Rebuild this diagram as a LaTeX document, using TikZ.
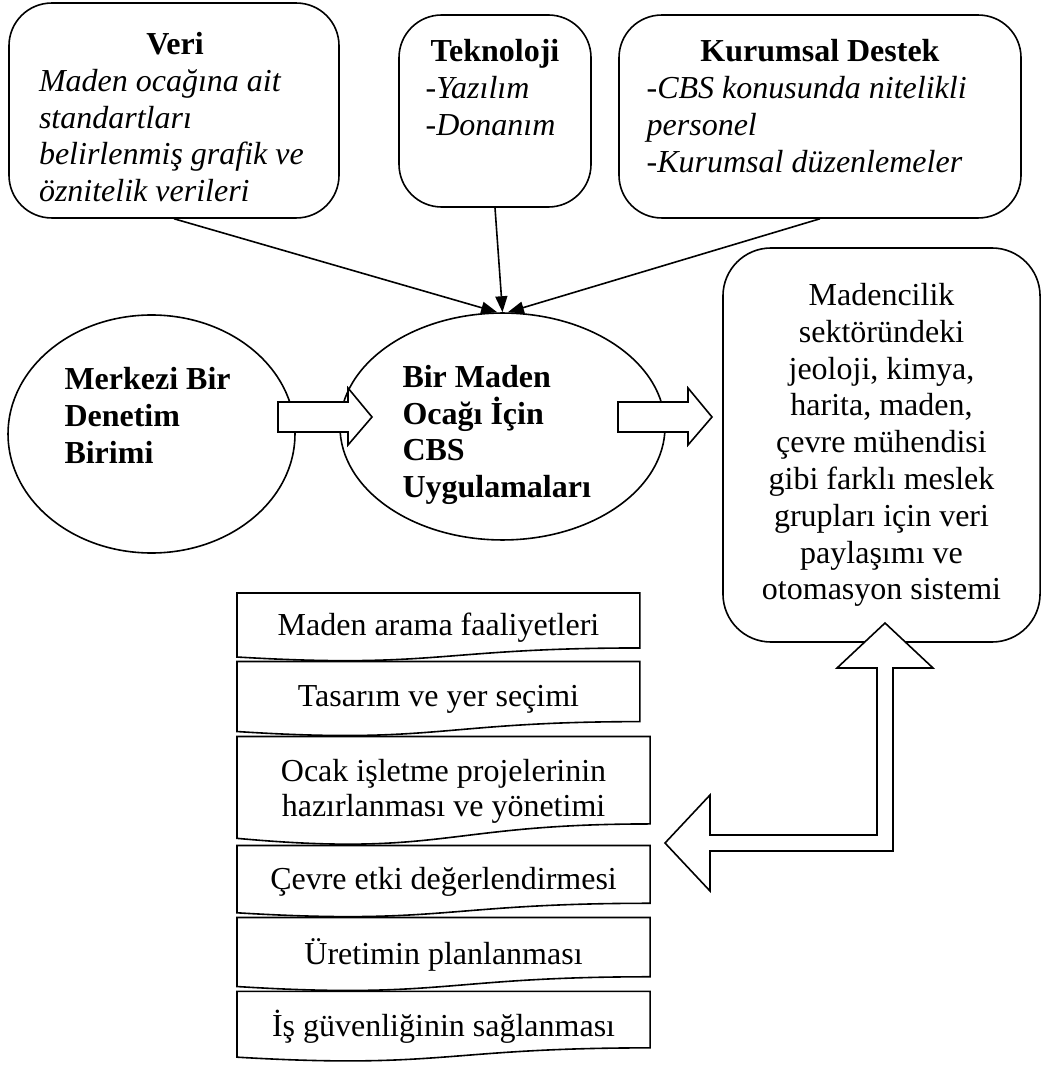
\documentclass[tikz,border=0pt]{standalone}
\usepackage{fontspec}
\setmainfont{Liberation Serif}
\usetikzlibrary{arrows.meta,positioning,calc,shapes.geometric}

\begin{document}
\begin{tikzpicture}[
    x = 0.375pt, y = -0.375pt, % one unit = one pixel of the drawing
    > = {Triangle[length=6pt,width=4.5pt]}, % arrow head style
    node distance = 0pt, % the pages touch each other
    font = {\fontsize{12pt}{13.8pt}\selectfont},
    semithick % line style
    ]

    \tikzset{
    kutu/.style = {draw = black, rounded corners = 16pt, inner sep = 0pt},
    yazi/.style = {inner sep = 0pt, align = flush left, anchor = north},
    daire/.style = {ellipse, draw = black, align = flush left, inner sep = 2pt,
        font = {\fontsize{12pt}{13.8pt}\selectfont\bfseries}},
    belge/.style = {minimum height = #1, minimum width = 151.1pt, inner sep = 0pt,
        outer sep = 0pt, align = center, font = {\fontsize{12pt}{13.2pt}\selectfont}},
    genis/.style = {minimum width = 154.9pt},
    blok/.style = {draw = black, fill = white}
    }
    \useasboundingbox (0,0) rectangle (1043,1065);

    % top boxes
    \node[kutu, minimum width=123.75pt, minimum height=80.6pt] (veri) at (174,110.5) {};
    \node[kutu, minimum width=72pt, minimum height=72pt] (tek) at (495,111) {};
    \node[kutu, minimum width=150.75pt, minimum height=76.1pt] (kur) at (820,116.5) {};

    \node[yazi, text width=102pt] (veriyazi) at (175,31.5)
        {\makebox[\linewidth]{\textbf{Veri}}\\ \textit{Maden ocağına ait}\\ \textit{standartları}\\
         \textit{belirlenmiş grafik ve}\\ \textit{öznitelik verileri}};
    \node[yazi, text width=52pt] (tekyazi) at (495,39)
        {\makebox[\linewidth]{\textbf{Teknoloji}}\\ \textit{-Yazılım}\\ \textit{-Donanım}};
    \node[yazi, text width=130pt] (kuryazi) at (820,39)
        {\makebox[\linewidth]{\textbf{Kurumsal Destek}}\\ \textit{-CBS konusunda nitelikli}\\
         \textit{personel}\\ \textit{-Kurumsal düzenlemeler}};

    % ellipses
    \node[daire, minimum width=107.6pt, minimum height=89.25pt, text width=65.25pt,
        text depth=41.4pt] (mer) at (151.5,434) {Merkezi Bir\\ Denetim\\ Birimi};
    \node[daire, minimum width=121.9pt, minimum height=85.1pt, text width=75pt,
        text depth=37.7pt] (cbs) at (502.5,426.5) {Bir Maden\\ Ocağı İçin\\ CBS\\ Uygulamaları};

    % right box
    \node[kutu, rounded corners=18pt, minimum width=118.9pt, minimum height=147.75pt,
        align=center] (sis) at (881.5,445)
        {Madencilik\\ sektöründeki\\ jeoloji, kimya,\\ harita, maden,\\ çevre mühendisi\\
         gibi farklı meslek\\ grupları için veri\\ paylaşımı ve\\ otomasyon sistemi};

    % pages
    \node[belge=25.7pt, anchor=north west] (b1) at (237,593) {Maden arama faaliyetleri};
    \node[belge=28.1pt, below=of b1.south west, anchor=north west] (b2) {Tasarım ve yer seçimi};
    \node[belge=40.9pt, genis, below=of b2.south west, anchor=north west] (b3)
        {Ocak işletme projelerinin\\ hazırlanması ve yönetimi};
    \node[belge=27pt, genis, below=of b3.south west, anchor=north west] (b4) {Çevre etki değerlendirmesi};
    \node[belge=27.7pt, genis, below=of b4.south west, anchor=north west] (b5) {Üretimin planlanması};
    \node[belge=26.4pt, genis, below=of b5.south west, anchor=north west] (b6) {İş güvenliğinin sağlanması};

    \foreach \i in {1,...,6}
        \draw (b\i.north west) -- (b\i.north east)
            -- ($(b\i.north east)!0.802!(b\i.south east)$)
            .. controls ($(b\i.north)!0.802!(b\i.south)$) and ($(b\i.north)!1.1075!(b\i.south)$)
            .. ($(b\i.north west)!0.934!(b\i.south west)$) -- cycle;

    \path[->] (veri.south) edge ([xshift=-2pt]cbs.north);
    \path[->] (tek.south) edge (cbs.north);
    \path[->] (kur.south) edge ([xshift=2pt]cbs.north);

    % block arrows
    \foreach \x in {278,618}
        \draw[blok] (\x,417) -- ++(0,-15) -- ++(70,0) -- ++(0,-14) -- ++(24,29)
            -- ++(-24,28) -- ++(0,-13) -- ++(-70,0) -- cycle;
    \draw[blok] (665,843) -- (710,795) -- (710,835) -- (877,835) -- (877,668) -- (837,668)
        -- (885,623) -- (933,668) -- (893,668) -- (893,851) -- (710,851) -- (710,891) -- cycle;
\end{tikzpicture}
\end{document}
